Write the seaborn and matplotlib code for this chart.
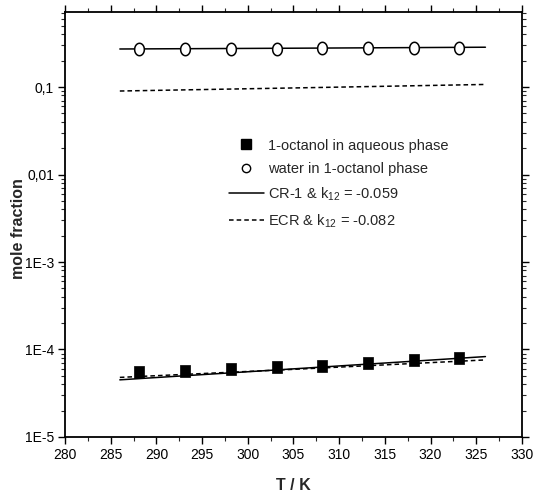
import matplotlib
matplotlib.use("Agg")
import matplotlib.pyplot as plt
import seaborn as sns
import numpy as np
import pandas as pd
from matplotlib.ticker import FixedLocator, LogLocator, MultipleLocator, NullFormatter
from matplotlib.path import Path
from matplotlib.lines import Line2D

# ---- data ----
T_exp = [288.15, 293.15, 298.15, 303.15, 308.15, 313.15, 318.15, 323.15]
x_octanol_aq = [5.5e-5, 5.75e-5, 6.0e-5, 6.3e-5, 6.55e-5, 7.0e-5, 7.5e-5, 7.9e-5]
x_water_org = [0.272, 0.273, 0.274, 0.275, 0.277, 0.278, 0.280, 0.282]

T_calc = [286.0, 306.0, 326.0]
cr1_aq = [4.5e-5, 6.1e-5, 8.3e-5]
cr1_org = [0.272, 0.278, 0.285]
ecr_aq = [4.8e-5, 6.0e-5, 7.6e-5]
ecr_org = [0.090, 0.098, 0.107]

y_ticks = [1e-5, 1e-4, 1e-3, 1e-2, 1e-1]
y_ticklabels = ["1E-5", "1E-4", "1E-3", "0,01", "0,1"]
x_ticks = [280, 285, 290, 295, 300, 305, 310, 315, 320, 325, 330]

sns.set_style("ticks")
plt.rcParams["font.family"] = ["Liberation Sans", "DejaVu Sans"]
plt.rcParams["mathtext.fontset"] = "custom"
plt.rcParams["mathtext.rm"] = "Liberation Sans"
plt.rcParams["mathtext.it"] = "Liberation Sans"

# tall ellipse marker (circles look slightly elongated in the original)
_t = np.linspace(0, 2 * np.pi, 41)
ellipse = Path(np.column_stack([0.78 * np.cos(_t), np.sin(_t)]), closed=True)
tall_sq = Path([(-0.8, -1), (0.8, -1), (0.8, 1), (-0.8, 1), (-0.8, -1)], closed=True)

fig = plt.figure(figsize=(5.34, 4.94), dpi=100)
ax = fig.add_axes([0.1217, 0.1154, 0.8558, 0.8603])

df_c = pd.DataFrame({"T": T_calc, "cr1_aq": cr1_aq, "cr1_org": cr1_org,
                     "ecr_aq": ecr_aq, "ecr_org": ecr_org})
df_e = pd.DataFrame({"T": T_exp, "aq": x_octanol_aq, "org": x_water_org})

sns.lineplot(data=df_c, x="T", y="cr1_aq", ax=ax, color="black", lw=1.1)
sns.lineplot(data=df_c, x="T", y="cr1_org", ax=ax, color="black", lw=1.1)
sns.lineplot(data=df_c, x="T", y="ecr_aq", ax=ax, color="black", lw=1.1)
ax.lines[-1].set_dashes([3, 2])
sns.lineplot(data=df_c, x="T", y="ecr_org", ax=ax, color="black", lw=1.1)
ax.lines[-1].set_dashes([3, 2])

sns.scatterplot(data=df_e, x="T", y="aq", ax=ax, marker=tall_sq, s=70,
                color="black", edgecolor="black", linewidth=0.5, zorder=3)
sns.scatterplot(data=df_e, x="T", y="org", ax=ax, marker=ellipse, s=80,
                facecolor="white", edgecolor="black", linewidth=1.1, zorder=3)

ax.set_yscale("log")
ax.set_xlim(280, 330)
ax.set_ylim(1e-5, 0.72)
ax.xaxis.set_major_locator(FixedLocator(x_ticks))
ax.xaxis.set_minor_locator(MultipleLocator(2.5))
ax.set_xticklabels([str(t) for t in x_ticks])
ax.yaxis.set_major_locator(FixedLocator(y_ticks))
ax.set_yticklabels(y_ticklabels)
ax.yaxis.set_minor_locator(LogLocator(base=10, subs=np.arange(2, 10)))
ax.yaxis.set_minor_formatter(NullFormatter())

for s in ax.spines.values():
    s.set_linewidth(1.3)
    s.set_color("black")
ax.tick_params(axis="both", which="major", labelsize=10, length=5, width=1,
               direction="out", colors="black", pad=3)
ax.tick_params(axis="both", which="minor", length=3, width=0.8, direction="out")
ax.tick_params(top=True, right=True, which="both")

ax.set_xlabel("T / K", fontsize=11.5, fontweight="bold")
ax.set_ylabel("mole fraction", fontsize=11.5, fontweight="bold")
ax.xaxis.set_label_coords(0.5, -0.097)
ax.yaxis.set_label_coords(-0.085, 0.49)

hs = [Line2D([], [], marker="s", color="black", ls="none", markersize=6.5),
      Line2D([], [], marker="o", markerfacecolor="white", markeredgecolor="black",
             ls="none", markersize=6),
      Line2D([], [], color="black", lw=1.1),
      Line2D([], [], color="black", lw=1.1, dashes=[3, 2])]
labels = ["1-octanol in aqueous phase", "water in 1-octanol phase",
          "CR-1 & k$_{12}$ = -0.059", "ECR & k$_{12}$ = -0.082"]
ax.legend(hs, labels, loc="upper left", bbox_to_anchor=(0.33, 0.733), frameon=False,
          fontsize=10.5, handlelength=2.4, handletextpad=0.3, labelspacing=0.65)

fig.savefig("out.png", dpi=100)
